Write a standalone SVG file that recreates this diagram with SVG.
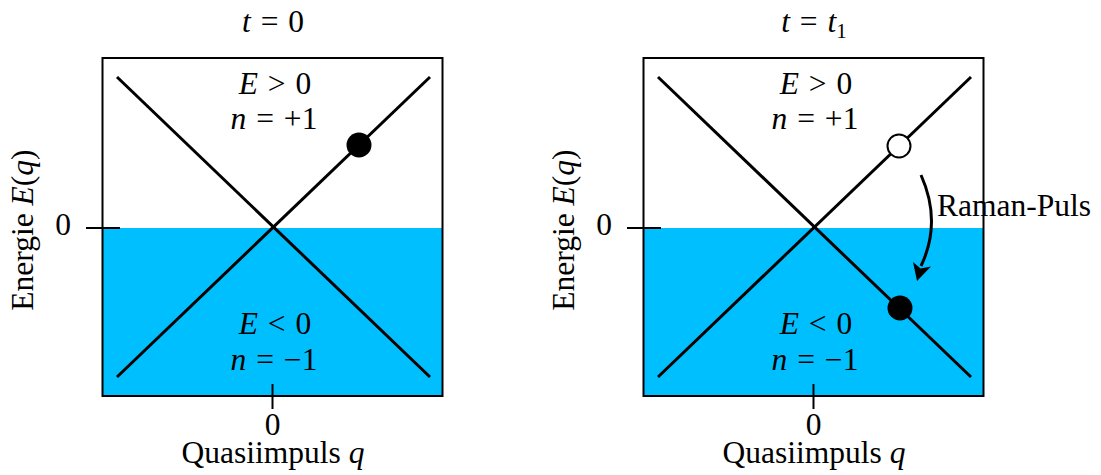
<svg xmlns="http://www.w3.org/2000/svg" width="1101" height="475" viewBox="0 0 1101 475">
<style>
text{font-family:"Liberation Serif","Times New Roman",serif;font-size:31.5px;fill:#000}
.i{font-style:italic}
.m{text-anchor:middle;word-spacing:2px}
.box{fill:none;stroke:#000;stroke-width:2}
.sea{fill:#00BFFF}
.ln{stroke:#000;stroke-width:3;fill:none}
.tk{stroke:#000;stroke-width:2}
</style>
<rect width="1101" height="475" fill="#fff"/>
<g id="panel-left">
<rect class="sea" x="102.5" y="228" width="340" height="168"/>
<rect class="box" x="102.5" y="58" width="340" height="338"/>
<line class="ln" x1="117" y1="77" x2="430" y2="377"/>
<line class="ln" x1="117" y1="377" x2="430" y2="77"/>
<line class="tk" x1="86" y1="228" x2="120" y2="228"/>
<line class="tk" x1="272.5" y1="384" x2="272.5" y2="409"/>
<circle cx="359" cy="145" r="12.5" fill="#000"/>
<text class="m" x="273" y="32"><tspan class="i">t</tspan> = 0</text>
<text class="m" x="275" y="94"><tspan class="i">E</tspan> &gt; 0</text>
<text class="m" x="274" y="129"><tspan class="i">n</tspan> = +1</text>
<text class="m" x="275" y="334"><tspan class="i">E</tspan> &lt; 0</text>
<text class="m" x="274" y="370"><tspan class="i">n</tspan> = −1</text>
<text x="63" y="235" text-anchor="middle">0</text>
<text x="272.5" y="435" text-anchor="middle">0</text>
<text x="273" y="463" text-anchor="middle">Quasiimpuls <tspan class="i">q</tspan></text>
<text transform="translate(33,230) rotate(-90)" text-anchor="middle">Energie <tspan class="i">E</tspan>(<tspan class="i">q</tspan>)</text>
</g>
<g id="panel-right">
<rect class="sea" x="643.5" y="228" width="340" height="168"/>
<rect class="box" x="643.5" y="58" width="340" height="338"/>
<line class="ln" x1="658" y1="77" x2="971" y2="377"/>
<line class="ln" x1="658" y1="377" x2="971" y2="77"/>
<line class="tk" x1="627" y1="228" x2="661" y2="228"/>
<line class="tk" x1="813.5" y1="384" x2="813.5" y2="409"/>
<circle cx="899" cy="146" r="11.5" fill="#fff" stroke="#000" stroke-width="2"/>
<circle cx="900" cy="308" r="12.5" fill="#000"/>
<text class="m" x="814" y="32"><tspan class="i">t</tspan> = <tspan class="i">t</tspan><tspan font-size="21" dy="6">1</tspan></text>
<text class="m" x="816" y="94"><tspan class="i">E</tspan> &gt; 0</text>
<text class="m" x="815" y="129"><tspan class="i">n</tspan> = +1</text>
<text class="m" x="816" y="334"><tspan class="i">E</tspan> &lt; 0</text>
<text class="m" x="815" y="370"><tspan class="i">n</tspan> = −1</text>
<text x="604" y="235" text-anchor="middle">0</text>
<text x="813.5" y="435" text-anchor="middle">0</text>
<text x="814" y="463" text-anchor="middle">Quasiimpuls <tspan class="i">q</tspan></text>
<text transform="translate(574,230) rotate(-90)" text-anchor="middle">Energie <tspan class="i">E</tspan>(<tspan class="i">q</tspan>)</text>
<text x="937" y="216">Raman-Puls</text>
</g>
<g id="connectors">
<path class="ln" d="M921,175 Q942,222 921,266"/>
<polygon points="917,281 913,262 920.6,268.5 931,266.5"/>
</g>
</svg>
